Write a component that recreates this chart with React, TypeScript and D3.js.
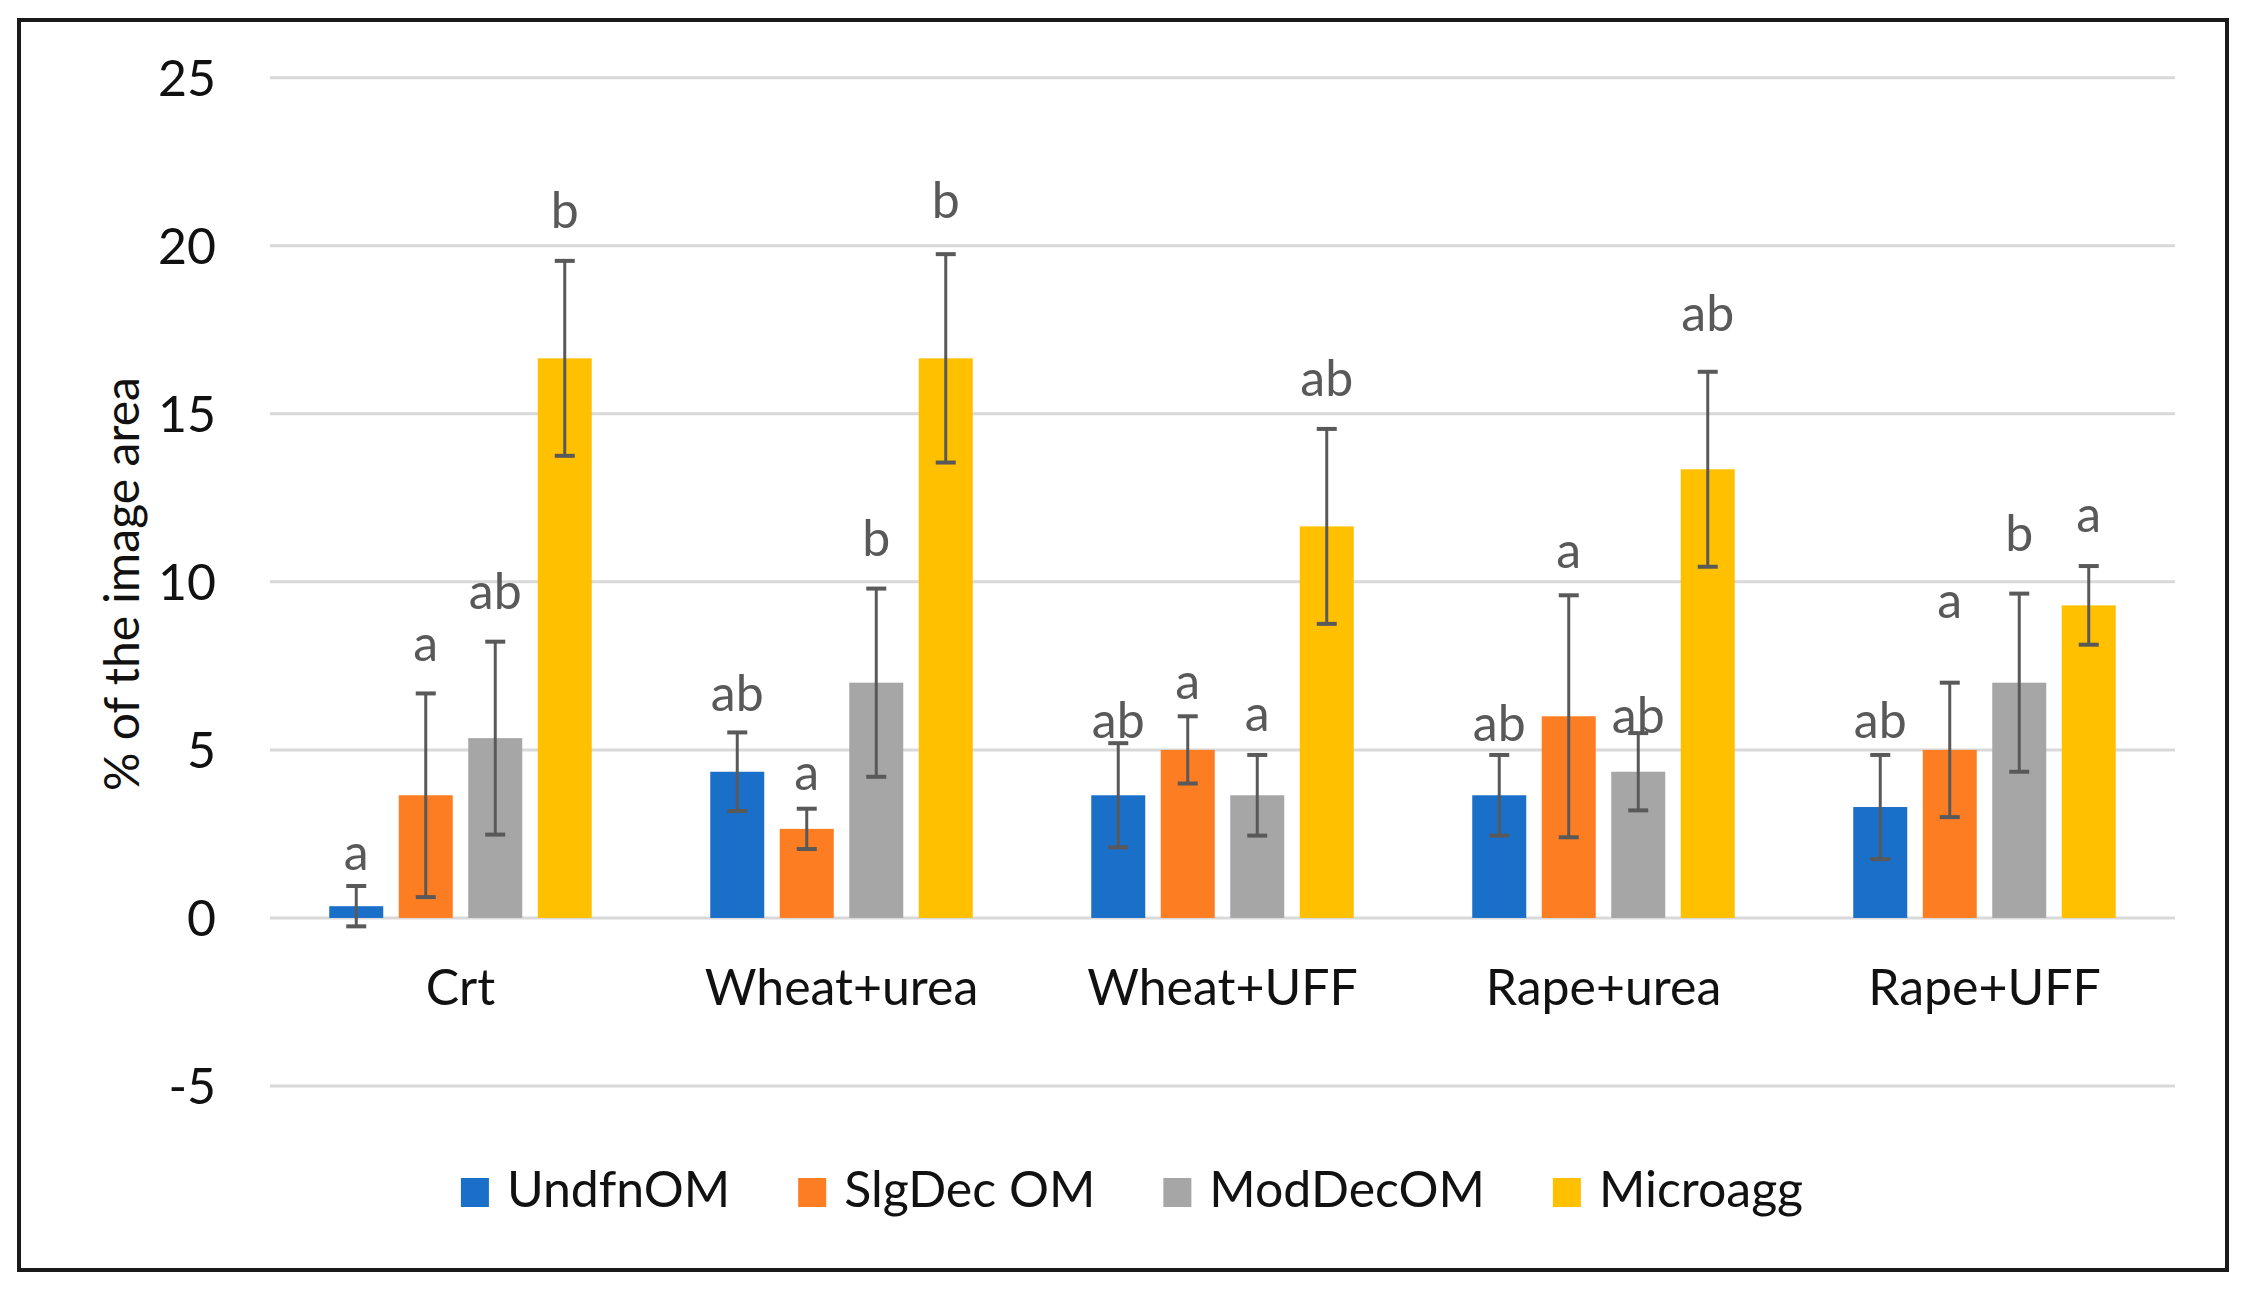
import React, { useEffect, useRef } from "react";
import * as d3 from "d3";

const categories = ["Crt", "Wheat+urea", "Wheat+UFF", "Rape+urea", "Rape+UFF"];
const seriesNames = ["UndfnOM", "SlgDec OM", "ModDecOM", "Microagg"];
const seriesColors = ["#1a6fc9", "#fd7d23", "#a6a6a6", "#ffc000"];

const undfnOM = [0.35, 4.35, 3.65, 3.65, 3.3];
const undfnOMErr = [0.6, 1.17, 1.55, 1.2, 1.55];
const slgDecOM = [3.65, 2.65, 5.0, 6.0, 5.0];
const slgDecOMErr = [3.03, 0.6, 1.0, 3.6, 2.0];
const modDecOM = [5.35, 7.0, 3.65, 4.35, 7.0];
const modDecOMErr = [2.87, 2.8, 1.2, 1.15, 2.65];
const microagg = [16.65, 16.65, 11.65, 13.35, 9.3];
const microaggErr = [2.9, 3.1, 2.9, 2.9, 1.17];

const undfnOMLetters = ["a", "ab", "ab", "ab", "ab"];
const slgDecOMLetters = ["a", "a", "a", "a", "a"];
const modDecOMLetters = ["ab", "b", "a", "ab", "b"];
const microaggLetters = ["b", "b", "ab", "ab", "a"];

// letter annotation heights, in data units (% of image area)
const undfnOMLetterAt = [1.44, 6.15, 5.35, 5.27, 5.35];
const slgDecOMLetterAt = [7.65, 3.82, 6.52, 10.41, 8.92];
const modDecOMLetterAt = [9.19, 10.76, 5.55, 5.49, 10.91];
const microaggLetterAt = [20.52, 20.82, 15.53, 17.46, 11.49];

const yTicks = [-5, 0, 5, 10, 15, 20, 25];
const yTitle = "% of the image area";

const values = [undfnOM, slgDecOM, modDecOM, microagg];
const errors = [undfnOMErr, slgDecOMErr, modDecOMErr, microaggErr];
const letters = [undfnOMLetters, slgDecOMLetters, modDecOMLetters, microaggLetters];
const letterAt = [undfnOMLetterAt, slgDecOMLetterAt, modDecOMLetterAt, microaggLetterAt];

const FONT = "Lato, 'Open Sans', sans-serif";

export default function App() {
  const ref = useRef<SVGSVGElement>(null);

  useEffect(() => {
    const svg = d3.select(ref.current);
    svg.selectAll("*").remove();

    // outer frame
    svg
      .append("rect")
      .attr("x", 19)
      .attr("y", 20)
      .attr("width", 2208)
      .attr("height", 1250)
      .attr("fill", "#fff")
      .attr("stroke", "#1a1a1a")
      .attr("stroke-width", 4);

    const x0 = d3.scaleBand<string>().domain(categories).range([270, 2175]).padding(0);
    const x1 = d3
      .scaleBand<string>()
      .domain(seriesNames)
      .range([-139, 139])
      .paddingInner(0.223)
      .paddingOuter(0.1115);
    const y = d3.scaleLinear().domain([-5, 25]).range([1086, 77.7]);

    // gridlines
    svg
      .append("g")
      .selectAll("line")
      .data(yTicks)
      .join("line")
      .attr("x1", 270)
      .attr("x2", 2175)
      .attr("y1", (d) => y(d))
      .attr("y2", (d) => y(d))
      .attr("stroke", "#d9d9d9")
      .attr("stroke-width", 3);

    // y tick labels
    svg
      .append("g")
      .selectAll("text")
      .data(yTicks)
      .join("text")
      .attr("x", 216)
      .attr("y", (d) => y(d))
      .attr("dy", "0.36em")
      .attr("text-anchor", "end")
      .attr("font-family", FONT)
      .attr("font-size", 50)
      .attr("fill", "#111")
      .text((d) => String(d));

    // y title
    svg
      .append("text")
      .attr("transform", `translate(122,584) rotate(-90)`)
      .attr("text-anchor", "middle")
      .attr("dy", "0.35em")
      .attr("font-family", FONT)
      .attr("font-size", 48)
      .attr("fill", "#111")
      .text(yTitle);

    // bars
    const bw = x1.bandwidth();
    seriesNames.forEach((s, si) => {
      const g = svg.append("g");
      categories.forEach((c, ci) => {
        const cx = (x0(c) as number) + x0.bandwidth() / 2 + (x1(s) as number);
        const v = values[si][ci];
        g.append("rect")
          .attr("x", cx)
          .attr("y", y(Math.max(v, 0)))
          .attr("width", bw)
          .attr("height", Math.abs(y(v) - y(0)))
          .attr("fill", seriesColors[si]);
      });
    });

    // error bars and letters
    seriesNames.forEach((s, si) => {
      const g = svg.append("g");
      categories.forEach((c, ci) => {
        const mid = (x0(c) as number) + x0.bandwidth() / 2 + (x1(s) as number) + bw / 2;
        const v = values[si][ci];
        const e = errors[si][ci];
        const top = y(v + e);
        const bot = y(v - e);
        const col = "#595959";
        g.append("line").attr("x1", mid).attr("x2", mid).attr("y1", top).attr("y2", bot).attr("stroke", col).attr("stroke-width", 3);
        [top, bot].forEach((yy) =>
          g
            .append("line")
            .attr("x1", mid - 10)
            .attr("x2", mid + 10)
            .attr("y1", yy)
            .attr("y2", yy)
            .attr("stroke", col)
            .attr("stroke-width", 4)
        );
        g.append("text")
          .attr("x", mid)
          .attr("y", y(letterAt[si][ci]))
          .attr("text-anchor", "middle")
          .attr("font-family", FONT)
          .attr("font-size", 50)
          .attr("fill", "#595959")
          .text(letters[si][ci]);
      });
    });

    // category labels
    svg
      .append("g")
      .selectAll("text")
      .data(categories)
      .join("text")
      .attr("x", (d) => (x0(d) as number) + x0.bandwidth() / 2)
      .attr("y", 1005)
      .attr("text-anchor", "middle")
      .attr("font-family", FONT)
      .attr("font-size", 50)
      .attr("fill", "#111")
      .text((d) => d);

    // legend
    const lg = svg.append("g");
    const textOffset = 46;
    const items = seriesNames.map((s, i) => {
      const it = lg.append("g");
      it.append("rect").attr("x", 0).attr("y", 1178).attr("width", 28).attr("height", 29).attr("fill", seriesColors[i]);
      const t = it
        .append("text")
        .attr("x", textOffset)
        .attr("y", 1207)
        .attr("font-family", FONT)
        .attr("font-size", 50)
        .attr("fill", "#111")
        .text(s);
      const w = (t.node() as SVGTextElement).getComputedTextLength();
      return { it, w: textOffset + w };
    });
    const gap = 68;
    const total = d3.sum(items, (d) => d.w) + gap * (items.length - 1);
    let cur = 1132 - total / 2;
    items.forEach((d) => {
      d.it.attr("transform", `translate(${cur},0)`);
      cur += d.w + gap;
    });
  }, []);

  return (
    <div style={{ position: "absolute", left: 0, top: 0 }}>
      <svg ref={ref} width={2246} height={1290} style={{ display: "block", background: "#fff" }} />
    </div>
  );
}
